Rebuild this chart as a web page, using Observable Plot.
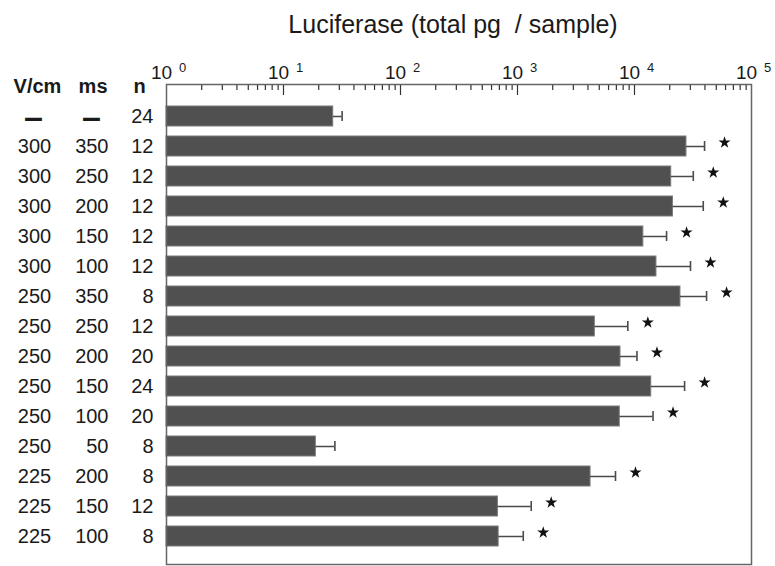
<!DOCTYPE html>
<html>
<head>
<meta charset="utf-8">
<script src="https://cdn.jsdelivr.net/npm/d3@7"></script>
<script src="https://cdn.jsdelivr.net/npm/@observablehq/plot@0.6"></script>
<style>
  html, body { margin: 0; padding: 0; background: #fff; }
  svg { font-family: "Liberation Sans", Arial, sans-serif; }
</style>
</head>
<body>
<div id="chart"></div>
<script>
// ---- data ----
const vcm = ["–","300","300","300","300","300","250","250","250","250","250","250","225","225","225"];
const ms  = ["–","350","250","200","150","100","350","250","200","150","100","50","200","150","100"];
const nVals = [24,12,12,12,12,12,8,12,20,24,20,8,8,12,8];
const means = [26.6, 27800, 20600, 21300, 11900, 15400, 24700, 4580, 7590, 13900, 7480, 18.9, 4210, 680, 690];
const uppers = [31.7, 39700, 31800, 38700, 18800, 30100, 41300, 8770, 10500, 26800, 14400, 27.5, 6880, 1310, 1120];
const significant = [false,true,true,true,true,true,true,true,true,true,true,false,true,true,true];
const decades = [1, 10, 100, 1000, 10000, 100000];
const exponents = ["0","1","2","3","4","5"];
const headers = ["V/cm", "ms", "n"];
const title = "Luciferase (total pg  / sample)";

const rows = vcm.map((v, i) => ({
  i, vcm: v, ms: ms[i], n: String(nVals[i]), mean: means[i], upper: uppers[i], sig: significant[i]
}));
const minors = [];
for (let k = 0; k < 5; k++) for (let m = 2; m <= 9; m++) minors.push(m * Math.pow(10, k));

const fontSize = 20;
const isDash = d => d === "–";
const chart = Plot.plot({
  width: 775,
  height: 566,
  marginLeft: 166,
  marginRight: 24,
  marginTop: 84,
  marginBottom: 2,
  style: {fontFamily: "'Liberation Sans', Arial, sans-serif", color: "#1a1a1a", background: "#fff"},
  x: {type: "log", domain: [1, 100000], axis: null},
  y: {type: "band", domain: d3.range(rows.length), axis: null, paddingInner: 0.325, paddingOuter: 0.1625, insetTop: 12, insetBottom: 8},
  marks: [
    // bars
    Plot.barX(rows, {x1: 1, x2: "mean", y: "i", fill: "#505050", stroke: "#7a7a7a", strokeWidth: 1}),
    // error bars
    Plot.ruleY(rows, {y: "i", x1: "mean", x2: "upper", stroke: "#4a4a4a", strokeWidth: 1.5}),
    Plot.tickX(rows, {x: "upper", y: "i", stroke: "#4a4a4a", strokeWidth: 1.6, insetTop: 5, insetBottom: 5}),
    // significance stars
    Plot.dot(rows.filter(d => d.sig), {x: "upper", y: "i", symbol: "star", r: 3.8, fill: "#111", stroke: "none", dx: 20, dy: -4}),
    // frame
    Plot.frame({stroke: "#666", strokeWidth: 1.5}),
    // minor ticks (pointing inward from the top edge)
    Plot.axisX({anchor: "top", ticks: minors, tickSize: 5, dy: 5, tickFormat: () => "", label: null, stroke: "#333", strokeWidth: 1.2}),
    // decade ticks
    Plot.axisX({anchor: "top", ticks: decades.slice(1, -1), tickSize: 10, dy: 10, tickFormat: () => "", label: null, stroke: "#333", strokeWidth: 1.2}),
    // decade labels
    Plot.axisX({anchor: "top", ticks: decades, tickSize: 0, tickPadding: 6, tickFormat: () => "10", label: null, fontSize: 19, dx: -5}),
    Plot.text(decades, {x: d => d, text: (d, i) => exponents[i], frameAnchor: "top", lineAnchor: "bottom", dy: -13, dx: 16, fontSize: 13}),
    // title
    Plot.text([title], {text: d => d, frameAnchor: "top", lineAnchor: "bottom", dy: -52, dx: -6, fontSize: 25}),
    // column headers
    Plot.text([headers[0]], {text: d => d, frameAnchor: "top-left", lineAnchor: "bottom", textAnchor: "middle", dx: -129, dy: 8, fontSize, fontWeight: "bold"}),
    Plot.text([headers[1]], {text: d => d, frameAnchor: "top-left", lineAnchor: "bottom", textAnchor: "end", dx: -59, dy: 8, fontSize, fontWeight: "bold"}),
    Plot.text([headers[2]], {text: d => d, frameAnchor: "top-left", lineAnchor: "bottom", textAnchor: "middle", dx: -27, dy: 8, fontSize, fontWeight: "bold"}),
    // row labels
    Plot.text(rows.filter(d => !isDash(d.vcm)), {y: "i", text: "vcm", frameAnchor: "left", textAnchor: "middle", dx: -132, fontSize}),
    Plot.text(rows.filter(d => isDash(d.vcm)), {y: "i", text: "vcm", frameAnchor: "left", textAnchor: "middle", dx: -133, dy: 1, fontSize: 34, fontWeight: "bold", fill: "currentColor"}),
    Plot.text(rows.filter(d => !isDash(d.ms)), {y: "i", text: "ms", frameAnchor: "left", textAnchor: "end", dx: -58, fontSize}),
    Plot.text(rows.filter(d => isDash(d.ms)), {y: "i", text: "ms", frameAnchor: "left", textAnchor: "middle", dx: -75, dy: 1, fontSize: 34, fontWeight: "bold", fill: "currentColor"}),
    Plot.text(rows, {y: "i", text: "n", frameAnchor: "left", textAnchor: "end", dx: -13, fontSize})
  ]
});
document.getElementById("chart").appendChild(chart);
</script>
</body>
</html>
